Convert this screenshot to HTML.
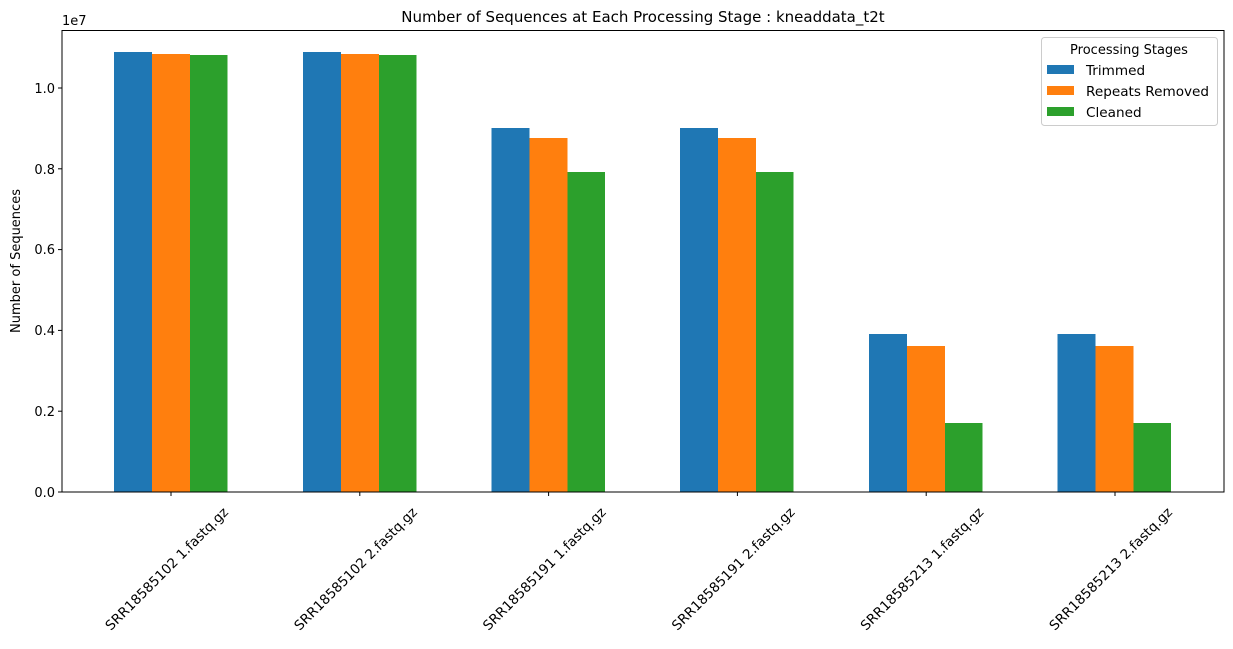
<!DOCTYPE html><html><head><style>body{margin:0;background:#fff}svg{font-family:"DejaVu Sans","Liberation Sans",sans-serif}</style></head><body>
<svg width="1233" height="644" xmlns="http://www.w3.org/2000/svg">
<rect width="1233" height="644" fill="#fff"/>
<g id="bars">
<rect x="114" y="52" width="38" height="440" fill="#1f77b4"/><rect x="152" y="54" width="38" height="438" fill="#ff7f0e"/><rect x="190" y="55" width="37.5" height="437" fill="#2ca02c"/>
<rect x="303" y="52" width="38" height="440" fill="#1f77b4"/><rect x="341" y="54" width="38" height="438" fill="#ff7f0e"/><rect x="379" y="55" width="37.5" height="437" fill="#2ca02c"/>
<rect x="491.5" y="128" width="38" height="364" fill="#1f77b4"/><rect x="529.5" y="138" width="38" height="354" fill="#ff7f0e"/><rect x="567.5" y="172" width="37.5" height="320" fill="#2ca02c"/>
<rect x="680" y="128" width="38" height="364" fill="#1f77b4"/><rect x="718" y="138" width="38" height="354" fill="#ff7f0e"/><rect x="756" y="172" width="37.5" height="320" fill="#2ca02c"/>
<rect x="869" y="334" width="38" height="158" fill="#1f77b4"/><rect x="907" y="346" width="38" height="146" fill="#ff7f0e"/><rect x="945" y="423" width="37.5" height="69" fill="#2ca02c"/>
<rect x="1057.5" y="334" width="38" height="158" fill="#1f77b4"/><rect x="1095.5" y="346" width="38" height="146" fill="#ff7f0e"/><rect x="1133.5" y="423" width="37.5" height="69" fill="#2ca02c"/>
</g>
<rect x="62" y="30.5" width="1162" height="461.5" fill="none" stroke="#000" stroke-width="1"/>
<g stroke="#000" stroke-width="1">
<line x1="58" y1="492" x2="62" y2="492"/><line x1="58" y1="411.2" x2="62" y2="411.2"/><line x1="58" y1="330.4" x2="62" y2="330.4"/><line x1="58" y1="249.6" x2="62" y2="249.6"/><line x1="58" y1="168.8" x2="62" y2="168.8"/><line x1="58" y1="88" x2="62" y2="88"/>
<line x1="171" y1="492" x2="171" y2="496"/><line x1="359.8" y1="492" x2="359.8" y2="496"/><line x1="548.6" y1="492" x2="548.6" y2="496"/><line x1="737.4" y1="492" x2="737.4" y2="496"/><line x1="926.2" y1="492" x2="926.2" y2="496"/><line x1="1115" y1="492" x2="1115" y2="496"/>
</g>
<g font-size="13" text-anchor="end">
<text x="55" y="497">0.0</text><text x="55" y="416">0.2</text><text x="55" y="335">0.4</text><text x="55" y="254">0.6</text><text x="55" y="174">0.8</text><text x="55" y="93">1.0</text>
</g>
<text x="62" y="25" font-size="13">1e7</text>
<text x="20" y="261" font-size="13" text-anchor="middle" transform="rotate(-90 20 261)">Number of Sequences</text>
<text x="643" y="22" font-size="15" text-anchor="middle">Number of Sequences at Each Processing Stage : kneaddata_t2t</text>
<g font-size="13.5" text-anchor="middle">
<text transform="translate(170,572) rotate(-45)">SRR18585102 1.fastq.gz</text>
<text transform="translate(358.8,572) rotate(-45)">SRR18585102 2.fastq.gz</text>
<text transform="translate(547.6,572) rotate(-45)">SRR18585191 1.fastq.gz</text>
<text transform="translate(736.4,572) rotate(-45)">SRR18585191 2.fastq.gz</text>
<text transform="translate(925.2,572) rotate(-45)">SRR18585213 1.fastq.gz</text>
<text transform="translate(1114,572) rotate(-45)">SRR18585213 2.fastq.gz</text>
</g>
<rect x="1041.5" y="37.5" width="176" height="88" rx="3" fill="#fff" fill-opacity="0.8" stroke="#ccc"/>
<text x="1129" y="54" font-size="13" text-anchor="middle">Processing Stages</text>
<rect x="1047" y="65" width="27" height="9" fill="#1f77b4"/><text x="1086" y="75" font-size="13.6">Trimmed</text>
<rect x="1047" y="86" width="27" height="9" fill="#ff7f0e"/><text x="1086" y="96" font-size="13.6">Repeats Removed</text>
<rect x="1047" y="107" width="27" height="9" fill="#2ca02c"/><text x="1086" y="117" font-size="13.6">Cleaned</text>
</svg></body></html>
